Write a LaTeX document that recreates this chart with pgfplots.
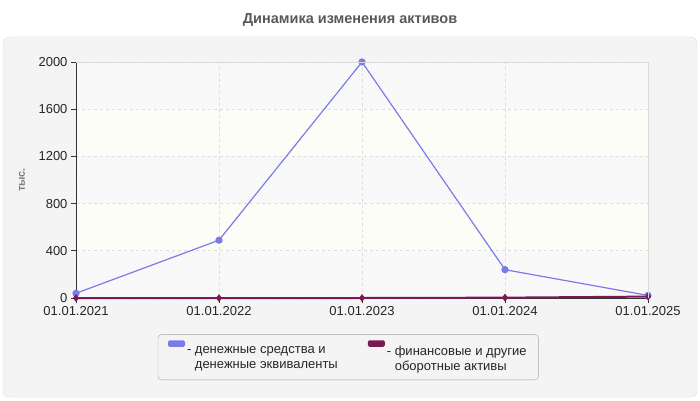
\documentclass[border=0pt]{standalone}
\usepackage{fontspec}
\setmainfont{Liberation Sans}
\usepackage{pgfplots}
\pgfplotsset{compat=1.18}
\usetikzlibrary{patterns,calc}
\definecolor{panel}{HTML}{F4F4F4}
\definecolor{cashblue}{HTML}{7B7BE6}
\definecolor{finpurple}{HTML}{7A1A55}
\definecolor{bandyel}{HTML}{FDFDF7}
\definecolor{gridc}{HTML}{DDDDDD}
\begin{document}
\begin{tikzpicture}[x=1pt,y=1pt]
  \path[use as bounding box] (0,0) rectangle (700,400);
  \fill[white] (0,0) rectangle (700,400);
  \draw[gridc, fill=panel, rounded corners=6pt] (3,3) rectangle (697,363);
  \node[font=\fontsize{14.5}{16}\selectfont\bfseries, text=black!65] at (350,380) {Динамика изменения активов};
  \begin{axis}[
    at={(76pt,102pt)},
    anchor=south west,
    scale only axis,
    width=572pt,
    height=236pt,
    xmin=0, xmax=4,
    ymin=0, ymax=2000,
    xtick={0,1,2,3,4},
    xticklabels={01.01.2021,01.01.2022,01.01.2023,01.01.2024,01.01.2025},
    ytick={0,400,800,1200,1600,2000},
    /pgf/number format/assume math mode=true,
    /pgf/number format/1000 sep={},
    tick label style={font=\fontsize{13}{15}\selectfont, text=black!85},
    axis x line*=bottom,
    axis y line*=left,
    axis line style={black!80, line width=0.9pt},
    tick style={black!80, line width=0.9pt},
    tick align=outside,
    major tick length=5pt,
    grid=major,
    major grid style={gridc, dashed, line width=0.7pt},
    ylabel={тыс.},
    every axis y label/.style={at={(rel axis cs:0,0.5)}, xshift=-54pt, rotate=90, anchor=center,
      font=\fontsize{11}{13}\selectfont\bfseries, text=black!50},
    clip=false,
    axis background/.style={
      fill=white,
      path picture={
        \coordinate (sw) at (path picture bounding box.south west);
        \coordinate (ne) at (path picture bounding box.north east);
        \fill[pattern=north east lines, pattern color=black!7] (sw) rectangle (ne);
        \fill[bandyel] ($(sw)!0.2!(sw|-ne)$) rectangle ($(ne|-sw)!0.4!(ne)$);
        \fill[bandyel] ($(sw)!0.6!(sw|-ne)$) rectangle ($(ne|-sw)!0.8!(ne)$);
      },
    },
    legend style={
      at={(0.143,-0.153)}, anchor=north west,
      draw=black!35, fill=panel, rounded corners=4pt,
      font=\fontsize{13}{14.5}\selectfont, text=black!85,
      legend columns=2,
      /tikz/every even column/.append style={column sep=28pt},
      inner xsep=10pt, inner ysep=6pt,
      cells={align=left, anchor=north west},
    },
    legend image code/.code={
      \fill[#1, draw=none, rounded corners=1.5pt] (0pt,-2.5pt) rectangle (17pt,4pt);
    },
    after end axis/.code={
      \draw[black!15, line width=0.8pt] (rel axis cs:0,1) -- (rel axis cs:1,1) -- (rel axis cs:1,0);
    },
  ]
    \addplot[color=cashblue, line width=1.2pt, mark=*, mark size=3pt,
      mark options={fill=cashblue, draw=cashblue}] coordinates {
      (0, 40)
      (1, 490)
      (2, 2000)
      (3, 240)
      (4, 22)
    };
    \addlegendentry{- денежные средства и\\\hphantom{- }денежные эквиваленты}

    \addplot[color=finpurple, line width=2pt, mark=diamond*, mark size=3.5pt,
      mark options={fill=finpurple, draw=finpurple, line width=0.5pt}] coordinates {
      (0, 0)
      (1, 0)
      (2, 0)
      (3, 3)
      (4, 12)
    };
    \addlegendentry{- финансовые и другие\\\hphantom{- }оборотные активы}
  \end{axis}
\end{tikzpicture}
\end{document}
